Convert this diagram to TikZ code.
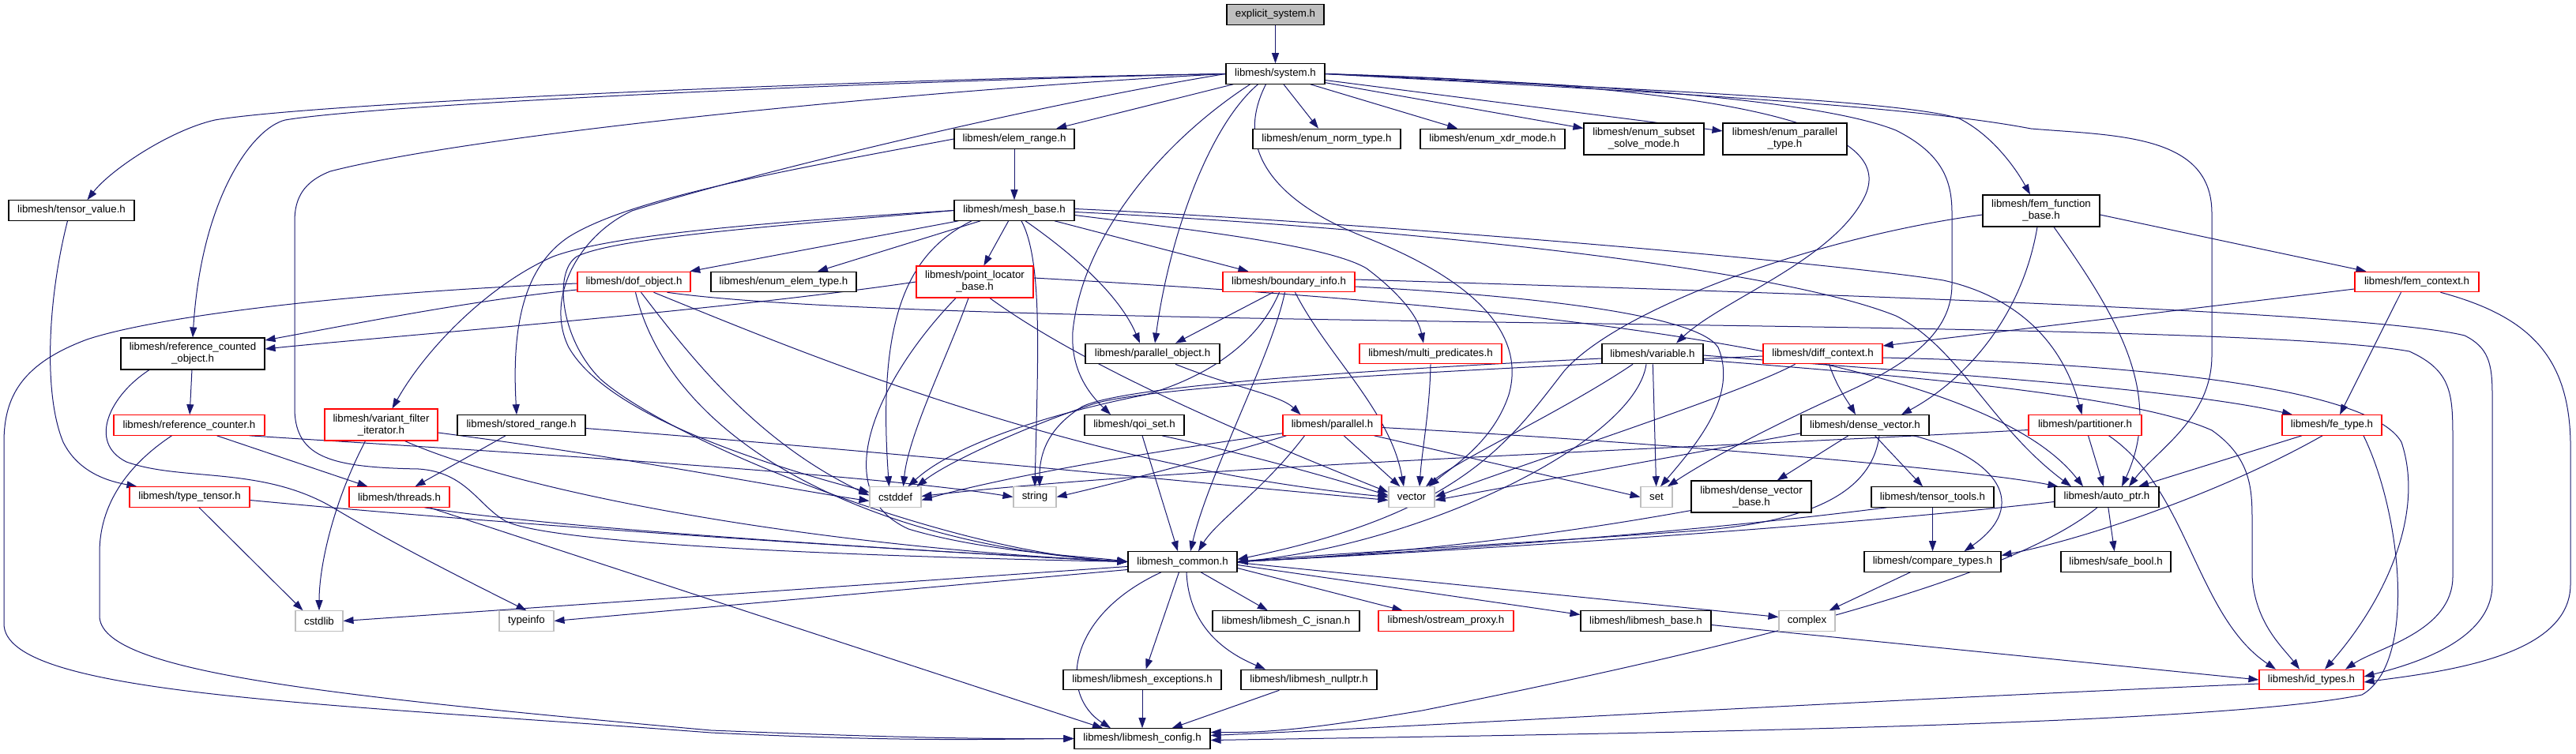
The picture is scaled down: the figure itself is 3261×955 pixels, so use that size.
\documentclass[tikz,border=0pt]{standalone}
\usepackage{fontspec}
\setmainfont{Liberation Sans}
\usetikzlibrary{arrows.meta,calc}
\definecolor{edgeblue}{HTML}{191970}
\definecolor{boxgray}{HTML}{BFBFBF}
\newcommand\nodefont{\fontsize{13.3pt}{15pt}\selectfont}
\pgfdeclarelayer{bg}
\pgfdeclarelayer{edges}
\pgfsetlayers{bg,edges,main}
\tikzset{
  nb/.style={draw=black, line width=1.1pt, fill=white, inner sep=0pt, align=center, font=\nodefont, minimum height=25.5pt},
  nr/.style={nb, draw=red},
  ng/.style={nb, draw=boxgray},
  edge/.style={draw=edgeblue, line width=1pt, -{Triangle[length=13pt,width=9pt]}},
}
\begin{document}
\begin{tikzpicture}[x=1pt,y=-1pt]
\begin{pgfonlayer}{bg}
\fill[white] (0,0) rectangle (3261,955);
\end{pgfonlayer}
\useasboundingbox (0,0) rectangle (3261,955);
% nodes
\node[nb, fill=boxgray, minimum width=123pt] (es) at (1614.5,18.5) {explicit\_system.h};
\node[nb, minimum width=125pt] (sys) at (1614.5,93.5) {libmesh/system.h};
\node[nb, minimum width=159pt] (tv) at (90.5,266.5) {libmesh/tensor\_value.h};
\node[nb, minimum width=182pt, minimum height=40pt] (rco) at (244,448) {libmesh/reference\_counted\\\_object.h};
\node[nb, minimum width=152pt] (er) at (1284,176) {libmesh/elem\_range.h};
\node[nb, minimum width=152pt] (mb) at (1284,266.5) {libmesh/mesh\_base.h};
\node[nr, minimum width=143pt] (dof) at (802.5,357) {libmesh/dof\_object.h};
\node[nb, minimum width=184pt] (eet) at (992,357) {libmesh/enum\_elem\_type.h};
\node[nr, minimum width=148pt, minimum height=40pt] (plb) at (1234,357) {libmesh/point\_locator\\\_base.h};
\node[nr, minimum width=167pt] (bi) at (1631.5,357) {libmesh/boundary\_info.h};
\node[nb, minimum width=170pt] (po) at (1459,448) {libmesh/parallel\_object.h};
\node[nb, minimum width=187pt] (ent) at (1679.5,176) {libmesh/enum\_norm\_type.h};
\node[nb, minimum width=183pt] (exm) at (1889.5,176) {libmesh/enum\_xdr\_mode.h};
\node[nb, minimum width=152pt, minimum height=40pt] (ess) at (2081,176) {libmesh/enum\_subset\\\_solve\_mode.h};
\node[nb, minimum width=157pt, minimum height=40pt] (ept) at (2259.5,176) {libmesh/enum\_parallel\\\_type.h};
\node[nr, minimum width=180pt] (mp) at (1811,448) {libmesh/multi\_predicates.h};
\node[nb, minimum width=128pt] (var) at (2092,448) {libmesh/variable.h};
\node[nr, minimum width=151pt] (dc) at (2307.5,448) {libmesh/diff\_context.h};
\node[nb, minimum width=148pt, minimum height=40pt] (ffb) at (2584,267) {libmesh/fem\_function\\\_base.h};
\node[nr, minimum width=157pt] (fc) at (3059.5,357) {libmesh/fem\_context.h};
\node[nr, minimum width=191pt] (rc) at (239.5,538.5) {libmesh/reference\_counter.h};
\node[nr, minimum width=143pt, minimum height=40pt] (vfi) at (482.5,538) {libmesh/variant\_filter\\\_iterator.h};
\node[nb, minimum width=162pt] (sr) at (660,538.5) {libmesh/stored\_range.h};
\node[nr, minimum width=152pt] (tt) at (240,629.5) {libmesh/type\_tensor.h};
\node[nr, minimum width=127pt] (thr) at (505.5,629.5) {libmesh/threads.h};
\node[ng, minimum width=60pt] (cstdlib) at (404,786.5) {cstdlib};
\node[ng, minimum width=69pt] (typeinfo) at (666.5,786.5) {typeinfo};
\node[nb, minimum width=126pt] (qoi) at (1436,538.5) {libmesh/qoi\_set.h};
\node[nr, minimum width=125pt] (par) at (1686.5,538.5) {libmesh/parallel.h};
\node[nb, minimum width=162pt] (dv) at (2361,538.5) {libmesh/dense\_vector.h};
\node[nr, minimum width=143pt] (part) at (2639.5,538.5) {libmesh/partitioner.h};
\node[nr, minimum width=126pt] (fet) at (2952,538.5) {libmesh/fe\_type.h};
\node[ng, minimum width=65pt] (cstddef) at (1133.5,629.5) {cstddef};
\node[ng, minimum width=54pt] (string) at (1310,629.5) {string};
\node[ng, minimum width=58pt] (vector) at (1787,629.5) {vector};
\node[ng, minimum width=40pt] (set) at (2097,629.5) {set};
\node[nb, minimum width=152pt, minimum height=40pt] (dvb) at (2217,629) {libmesh/dense\_vector\\\_base.h};
\node[nb, minimum width=155pt] (tto) at (2446.5,629.5) {libmesh/tensor\_tools.h};
\node[nb, minimum width=132pt] (ap) at (2667,629.5) {libmesh/auto\_ptr.h};
\node[nb, minimum width=138pt] (lc) at (1497,711.5) {libmesh\_common.h};
\node[nb, minimum width=173pt] (ct) at (2446.5,711.5) {libmesh/compare\_types.h};
\node[nb, minimum width=139pt] (sb) at (2678.5,711.5) {libmesh/safe\_bool.h};
\node[nb, minimum width=186pt] (isnan) at (1628,786.5) {libmesh/libmesh\_C\_isnan.h};
\node[nr, minimum width=171pt] (op) at (1830.5,786.5) {libmesh/ostream\_proxy.h};
\node[nb, minimum width=165pt] (lb) at (2083.5,786.5) {libmesh/libmesh\_base.h};
\node[ng, minimum width=71pt] (complex) at (2287.5,786.5) {complex};
\node[nb, minimum width=200pt] (lex) at (1446,861) {libmesh/libmesh\_exceptions.h};
\node[nb, minimum width=172pt] (lnp) at (1657,861) {libmesh/libmesh\_nullptr.h};
\node[nr, minimum width=132pt] (idt) at (2926,861) {libmesh/id\_types.h};
\node[nb, minimum width=172pt] (cfg) at (1446,935.5) {libmesh/libmesh\_config.h};

\begin{pgfonlayer}{edges}
% explicit_system
\draw[edge] (es) -- (sys);
% system.h
\draw[edge] (sys.west) .. controls (1100,100) and (400,130) .. (272,152) .. controls (215,165) and (140,215) .. ($(tv.north)+(20,0)$);
\draw[edge] (sys.west) .. controls (1100,103) and (480,132) .. (361,152) .. controls (320,162) and (255,250) .. (rco.north);
\draw[edge] (sys.west) .. controls (1150,115) and (600,170) .. (418,217) .. controls (385,230) and (373,250) .. (373,280) -- (373,520) .. controls (375,580) and (420,592) .. (530,594) .. controls (590,598) and (605,640) .. (640,660) .. controls (700,690) and (1100,705) .. (lc.west);
\draw[edge] (sys.west) .. controls (1300,135) and (950,220) .. (800,267) .. controls (730,300) and (690,380) .. (720,440) .. controls (760,510) and (900,570) .. ($(cstddef.west)+(0,-6)$);
\draw[edge] (sys) -- (er);
\draw[edge] (sys) -- (ent);
\draw[edge] (sys) -- (exm);
\draw[edge] (sys) -- (ess);
\draw[edge] (sys) -- (ept);
\draw[edge] (sys.east) .. controls (2000,110) and (2400,125) .. (2480,150) .. controls (2520,170) and (2550,210) .. ($(ffb.north)+(-14,0)$);
\draw[edge] (sys.east) .. controls (2250,110) and (2400,170) .. (2360,250) .. controls (2320,330) and (2180,380) .. ($(var.north)+(30,0)$);
\draw[edge] ($(sys.south)+(-32,0)$) .. controls (1470,180) and (1370,300) .. (1358,420) .. controls (1355,470) and (1380,500) .. ($(qoi.north)+(-30,0)$);
\draw[edge] ($(sys.south)+(-22,0)$) .. controls (1530,160) and (1480,300) .. ($(po.north)+(3,0)$);
\draw[edge] ($(sys.south)+(-12,0)$) .. controls (1565,180) and (1600,250) .. (1727,300) .. controls (1880,360) and (1930,430) .. (1910,500) .. controls (1890,560) and (1840,590) .. ($(vector.north)+(22,0)$);
\draw[edge] (sys.east) .. controls (2000,112) and (2400,130) .. (2571,163) .. controls (2680,172) and (2800,170) .. (2800,270) -- (2800,450) .. controls (2800,530) and (2730,570) .. ($(ap.north)+(28,0)$);
\draw[edge] (sys.east) .. controls (2000,105) and (2300,125) .. (2400,165) .. controls (2460,195) and (2471,230) .. (2471,270) -- (2471,360) .. controls (2471,420) and (2420,460) .. (2330,500) .. controls (2220,550) and (2150,590) .. ($(set.north)+(14,0)$);
% elem_range
\draw[edge] (er) -- (mb);
\draw[edge] (er.west) .. controls (1000,215) and (800,250) .. (720,300) .. controls (660,340) and (648,420) .. ($(sr.north)+(-6,0)$);
% mesh_base
\draw[edge] (mb) -- (dof);
\draw[edge] (mb) -- (eet);
\draw[edge] (mb) -- (plb);
\draw[edge] (mb) -- (bi);
\draw[edge] ($(mb.south)+(14,0)$) .. controls (1370,330) and (1420,380) .. ($(po.north)+(-16,0)$);
\draw[edge] ($(mb.east)+(0,6)$) .. controls (1500,290) and (1680,310) .. (1730,340) .. controls (1770,370) and (1795,400) .. ($(mp.north)+(-9,0)$);
\draw[edge] ($(mb.east)+(0,-2)$) .. controls (1700,280) and (2300,330) .. (2460,355) .. controls (2550,375) and (2610,430) .. ($(part.north)+(-4,0)$);
\draw[edge] ($(mb.east)+(0,2)$) .. controls (1800,290) and (2250,340) .. (2400,400) .. controls (2480,440) and (2520,540) .. ($(ap.north)+(-45,0)$);
\draw[edge] (mb.west) .. controls (1000,280) and (780,295) .. (700,325) .. controls (620,360) and (540,440) .. ($(vfi.north)+(14,0)$);
\draw[edge] (mb.west) .. controls (1000,285) and (780,300) .. (730,325) .. controls (700,345) and (710,430) .. (760,480) .. controls (850,560) and (1200,700) .. (lc.west);
\draw[edge] ($(mb.south)+(-54,0)$) .. controls (1150,320) and (1110,400) .. ($(cstddef.north)+(-8,0)$);
\draw[edge] ($(mb.south)+(9,0)$) .. controls (1320,330) and (1314,450) .. (string.north);
% dof_object
\draw[edge] ($(dof.west)+(0,10)$) .. controls (600,380) and (450,410) .. ($(rco.east)+(0,-17)$);
\draw[edge] ($(dof.west)+(0,2)$) .. controls (450,370) and (200,400) .. (110,430) .. controls (30,460) and (5,500) .. (5,560) -- (5,790) .. controls (5,880) and (400,890) .. (900,928) .. controls (1150,940) and (1250,936) .. (cfg.west);
\draw[edge] ($(dof.south east)+(-30,0)$) .. controls (1200,420) and (2800,400) .. (3050,445) .. controls (3105,470) and (3105,500) .. (3105,560) -- (3105,730) .. controls (3105,800) and (3010,820) .. ($(idt.north)+(43,0)$);
\draw[edge] ($(dof.south)+(2,0)$) .. controls (850,560) and (1100,690) .. (lc.west);
\draw[edge] ($(dof.south)+(9,0)$) .. controls (880,460) and (960,560) .. ($(cstddef.west)+(0,-2)$);
\draw[edge] ($(dof.south)+(25,0)$) .. controls (1000,440) and (1350,590) .. (vector.west);
% point_locator_base
\draw[edge] (plb.west) .. controls (900,395) and (500,425) .. ($(rco.east)+(0,-6)$);
\draw[edge] ($(plb.south)+(-24,0)$) .. controls (1120,470) and (1040,620) .. (1150,670) .. controls (1250,700) and (1380,705) .. (lc.west);
\draw[edge] ($(plb.south)+(-8,0)$) .. controls (1200,450) and (1150,550) .. ($(cstddef.north)+(10,0)$);
\draw[edge] ($(plb.south)+(19,0)$) .. controls (1380,470) and (1600,560) .. ($(vector.west)+(0,-6)$);
\draw[edge] ($(plb.east)+(0,-5)$) .. controls (1900,385) and (2500,440) .. ($(ap.north)+(-30,0)$);
% boundary_info
\draw[edge] ($(bi.south)+(-20,0)$) -- ($(po.north)+(29,0)$);
\draw[edge] ($(bi.south)+(-5,0)$) .. controls (1610,450) and (1530,600) .. ($(lc.north)+(10,0)$);
\draw[edge] ($(bi.south)+(-12,0)$) .. controls (1590,440) and (1520,480) .. (1450,500) .. controls (1300,530) and (1200,570) .. ($(cstddef.north)+(16,0)$);
\draw[edge] ($(bi.south)+(8,0)$) .. controls (1680,450) and (1760,520) .. ($(vector.north)+(-10,0)$);
\draw[edge] ($(bi.east)+(0,6)$) .. controls (1950,375) and (2150,400) .. (2175,440) .. controls (2200,500) and (2150,560) .. ($(set.north)+(5,0)$);
\draw[edge] ($(bi.east)+(0,-3)$) .. controls (2300,372) and (3000,395) .. (3120,425) .. controls (3150,440) and (3155,460) .. (3155,500) -- (3155,740) .. controls (3155,810) and (3060,840) .. ($(idt.east)+(0,-4)$);
% parallel_object, multi_predicates
\draw[edge] ($(po.south)+(29,0)$) .. controls (1560,490) and (1620,500) .. ($(par.north)+(-40,0)$);
\draw[edge] (mp.south) .. controls (1810,520) and (1800,570) .. ($(vector.north)+(10,0)$);
% variable
\draw[edge] ($(var.east)+(0,2)$) .. controls (2400,470) and (2750,490) .. ($(fet.north)+(-50,0)$);
\draw[edge] (var) -- (set);
\draw[edge] ($(var.south)+(-8,0)$) .. controls (2070,560) and (1800,690) .. (lc.east);
\draw[edge] ($(var.south)+(-25,0)$) .. controls (1980,520) and (1850,580) .. ($(vector.north)+(18,0)$);
\draw[edge] ($(var.west)+(0,6)$) .. controls (1700,470) and (1420,490) .. (1370,515) .. controls (1330,540) and (1316,570) .. ($(string.north)+(6,0)$);
\draw[edge] ($(var.east)+(0,8)$) .. controls (2400,475) and (2700,500) .. (2800,545) .. controls (2850,580) and (2851,620) .. (2851,660) -- (2851,730) .. controls (2855,790) and (2890,820) .. ($(idt.north)+(-15,0)$);
% diff_context
\draw[edge] ($(dc.south)+(8,0)$) .. controls (2325,490) and (2340,510) .. ($(dv.north)+(-12,0)$);
\draw[edge] ($(dc.south)+(-35,0)$) .. controls (2200,500) and (1950,580) .. (vector.east);
\draw[edge] ($(dc.west)+(0,3)$) .. controls (1800,470) and (1450,490) .. (1383,512) .. controls (1300,540) and (1200,585) .. ($(cstddef.north east)+(-6,0)$);
\draw[edge] ($(dc.east)+(0,5)$) .. controls (2700,460) and (3000,490) .. (3040,560) .. controls (3070,650) and (3020,760) .. ($(idt.north)+(17,0)$);
% fem_function_base
\draw[edge] ($(ffb.west)+(0,5)$) .. controls (2300,300) and (2050,390) .. (1980,470) .. controls (1910,560) and (1850,650) .. ($(lc.east)+(0,-3)$);
\draw[edge] ($(ffb.south)+(-5,0)$) .. controls (2560,400) and (2490,480) .. ($(dv.north)+(46,0)$);
\draw[edge] ($(ffb.south)+(16,0)$) .. controls (2680,400) and (2740,500) .. ($(ap.north)+(19,0)$);
\draw[edge] ($(ffb.east)+(0,5)$) -- ($(fc.north west)+(15,0)$);
% fem_context
\draw[edge] ($(fc.west)+(0,9)$) -- ($(dc.east)+(0,-10)$);
\draw[edge] ($(fc.south)+(-20,0)$) -- ($(fet.north)+(10,0)$);
\draw[edge] ($(fc.south)+(30,0)$) .. controls (3200,400) and (3252,450) .. (3254,560) -- (3254,740) .. controls (3254,830) and (3100,850) .. ($(idt.east)+(0,3)$);
% reference_counted_object
\draw[edge] (rco) -- (rc);
\draw[edge] ($(rco.south)+(-55,0)$) .. controls (140,500) and (110,560) .. (160,585) .. controls (230,610) and (330,590) .. (420,642) .. controls (500,690) and (600,740) .. (typeinfo.north);
% reference_counter
\draw[edge] ($(rc.south)+(35,0)$) -- ($(thr.north)+(-40,0)$);
\draw[edge] ($(rc.south)+(-22,0)$) .. controls (160,590) and (126,640) .. (126,700) -- (126,780) .. controls (126,850) and (400,880) .. (900,925) .. controls (1150,935) and (1250,936) .. (cfg.west);
\draw[edge] ($(rc.south east)+(-20,0)$) .. controls (600,570) and (1100,600) .. (string.west);
% variant_filter_iterator
\draw[edge] ($(vfi.south)+(-20,0)$) .. controls (420,640) and (404,720) .. (cstdlib.north);
\draw[edge] ($(vfi.south)+(30,0)$) .. controls (650,620) and (1000,690) .. (lc.west);
\draw[edge] ($(vfi.east)+(0,10)$) .. controls (800,580) and (1000,620) .. ($(cstddef.west)+(0,5)$);
% stored_range
\draw[edge] ($(sr.south)+(-20,0)$) -- ($(thr.north)+(20,0)$);
\draw[edge] ($(sr.east)+(0,4)$) .. controls (1100,570) and (1500,610) .. ($(vector.west)+(0,4)$);
% type_tensor, tensor_value
\draw[edge] ($(tt.south)+(12,0)$) -- ($(cstdlib.north west)+(10,0)$);
\draw[edge] ($(tt.east)+(0,4)$) .. controls (700,670) and (1200,700) .. (lc.west);
\draw[edge] ($(tv.south)+(-5,0)$) .. controls (60,380) and (55,500) .. (80,560) .. controls (100,600) and (140,610) .. ($(tt.north west)+(10,0)$);
% threads
\draw[edge] ($(thr.south)+(32,0)$) .. controls (700,670) and (1200,700) .. (lc.west);
\draw[edge] ($(thr.south)+(38,0)$) -- ($(cfg.north)+(-50,0)$);
% qoi_set
\draw[edge] ($(qoi.south)+(10,0)$) -- ($(lc.north)+(-6,0)$);
\draw[edge] ($(qoi.south)+(35,0)$) .. controls (1600,580) and (1700,610) .. ($(vector.west)+(0,-2)$);
% parallel
\draw[edge] ($(par.south)+(-35,0)$) .. controls (1600,620) and (1540,660) .. ($(lc.north)+(20,0)$);
\draw[edge] ($(par.south west)+(0,-3)$) .. controls (1400,580) and (1250,610) .. ($(cstddef.east)+(0,4)$);
\draw[edge] ($(par.south west)+(5,0)$) .. controls (1500,590) and (1400,615) .. (string.east);
\draw[edge] (par) -- (vector);
\draw[edge] ($(par.south east)+(-10,0)$) -- (set.west);
\draw[edge] ($(par.east)+(0,3)$) .. controls (2100,560) and (2500,595) .. ($(ap.north west)+(5,0)$);
% dense_vector
\draw[edge] ($(dv.south)+(18,0)$) .. controls (2370,620) and (2300,660) .. (2150,672) .. controls (1900,690) and (1700,700) .. (lc.east);
\draw[edge] ($(dv.south west)+(0,-3)$) -- ($(vector.east)+(0,4)$);
\draw[edge] (dv) -- (dvb);
\draw[edge] (dv) -- (tto);
\draw[edge] ($(dv.south east)+(-20,0)$) .. controls (2530,580) and (2570,640) .. ($(ct.north)+(40,0)$);
% partitioner
\draw[edge] ($(part.west)+(0,6)$) .. controls (2200,565) and (1500,590) .. ($(cstddef.east)+(0,-1)$);
\draw[edge] (part) -- (ap);
\draw[edge] ($(part.south)+(30,0)$) .. controls (2770,620) and (2780,780) .. ($(idt.north)+(-45,0)$);
% fe_type
\draw[edge] ($(fet.south)+(-38,0)$) -- ($(ap.north)+(40,0)$);
\draw[edge] ($(fet.south)+(-12,0)$) .. controls (2820,620) and (2650,680) .. ($(ct.east)+(0,-8)$);
\draw[edge] ($(fet.south)+(40,0)$) .. controls (3040,650) and (3060,840) .. (2990,880) .. controls (2800,920) and (2000,930) .. ($(cfg.east)+(0,2)$);
% dense_vector_base, tensor_tools
\draw[edge] ($(dvb.south west)+(0,-3)$) .. controls (1900,690) and (1700,705) .. (lc.east);
\draw[edge] (tto) -- (ct);
\draw[edge] ($(tto.south west)+(20,0)$) .. controls (2100,680) and (1700,705) .. (lc.east);
% auto_ptr
\draw[edge] ($(ap.west)+(0,6)$) .. controls (2300,670) and (1800,700) .. (lc.east);
\draw[edge] (ap) -- (sb);
\draw[edge] ($(ap.south)+(-12,0)$) .. controls (2560,720) and (2300,800) .. (1800,900) .. controls (1650,925) and (1600,928) .. ($(cfg.east)+(0,-8)$);
% libmesh_common
\draw[edge] ($(lc.west)+(0,6)$) -- (cstdlib.east);
\draw[edge] ($(lc.west)+(0,10)$) -- (typeinfo.east);
\draw[edge] ($(lc.south)+(-27,0)$) .. controls (1350,780) and (1340,880) .. ($(cfg.north)+(-40,0)$);
\draw[edge] (lc) -- (lex);
\draw[edge] ($(lc.south)+(5,0)$) .. controls (1505,800) and (1560,830) .. ($(lnp.north)+(-55,0)$);
\draw[edge] (lc) -- (isnan);
\draw[edge] ($(lc.east)+(0,8)$) -- ($(op.north)+(-55,0)$);
\draw[edge] ($(lc.east)+(0,4)$) -- ($(lb.west)+(0,-8)$);
\draw[edge] ($(lc.east)+(0,1)$) -- ($(complex.west)+(0,-5)$);
% bottom
\draw[edge] (ct) -- (complex);
\draw[edge] ($(lb.east)+(0,5)$) -- (idt.west);
\draw[edge] (lex) -- (cfg);
\draw[edge] (lnp) -- (cfg);
\draw[edge] ($(idt.west)+(0,5)$) .. controls (2300,890) and (1800,920) .. ($(cfg.east)+(0,-4)$);
\end{pgfonlayer}
\end{tikzpicture}
\end{document}
